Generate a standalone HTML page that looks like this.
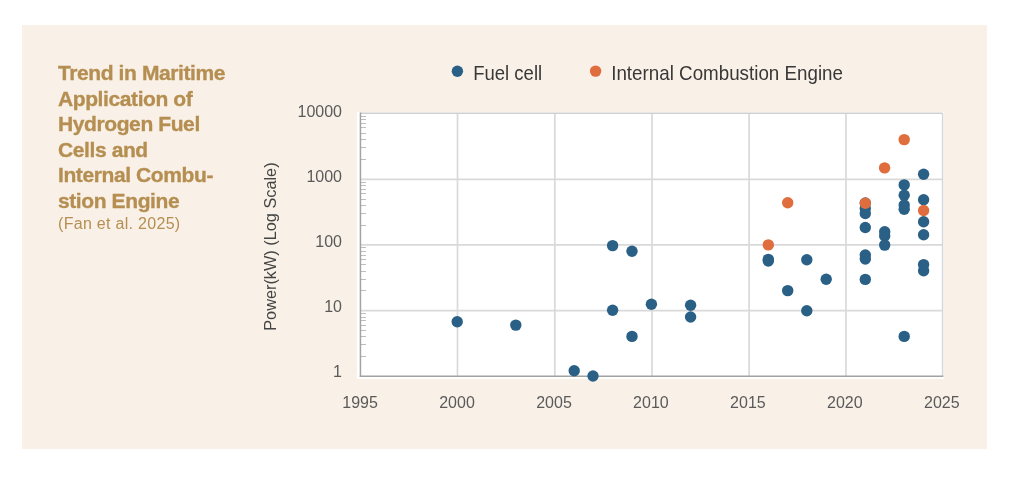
<!DOCTYPE html>
<html><head><meta charset="utf-8"><style>
html,body{margin:0;padding:0;background:#ffffff;width:1023px;height:478px;overflow:hidden;}
.card{position:absolute;left:22px;top:25px;width:965px;height:424px;background:#f9f1e8;}
.title{position:absolute;left:58px;top:60px;width:220px;font-family:"Liberation Sans",sans-serif;font-weight:bold;font-size:21px;letter-spacing:-0.4px;line-height:25.6px;color:#b58e51;-webkit-text-stroke:0.35px #b58e51;will-change:transform;}
.sub{font-weight:normal;font-size:16px;letter-spacing:0.3px;line-height:20px;display:block;-webkit-text-stroke:0;}
svg{position:absolute;left:0;top:0;will-change:transform;}
.tk{font-family:"Liberation Sans",sans-serif;font-size:16px;fill:#5a5a5a;}
.yt{font-family:"Liberation Sans",sans-serif;font-size:16.3px;fill:#444444;}
.lg{font-family:"Liberation Sans",sans-serif;font-size:18.8px;fill:#383838;}
</style></head><body>
<div class="card"></div>
<div class="title">Trend in Maritime<br>Application of<br>Hydrogen Fuel<br>Cells and<br>Internal Combu-<br>stion Engine<span class="sub">(Fan et al. 2025)</span></div>
<svg width="1023" height="478" viewBox="0 0 1023 478">
<rect x="357" y="112" width="587" height="267" fill="#ffffff"/>
<line x1="457.50" y1="113.25" x2="457.50" y2="376.25" stroke="#d9d9d9" stroke-width="1.7"/>
<line x1="554.83" y1="113.25" x2="554.83" y2="376.25" stroke="#d9d9d9" stroke-width="1.7"/>
<line x1="652.04" y1="113.25" x2="652.04" y2="376.25" stroke="#d9d9d9" stroke-width="1.7"/>
<line x1="749.09" y1="113.25" x2="749.09" y2="376.25" stroke="#d9d9d9" stroke-width="1.7"/>
<line x1="845.96" y1="113.25" x2="845.96" y2="376.25" stroke="#d9d9d9" stroke-width="1.7"/>
<line x1="360.45" y1="310.67" x2="942.6" y2="310.67" stroke="#d9d9d9" stroke-width="1.7"/>
<line x1="360.45" y1="244.90" x2="942.6" y2="244.90" stroke="#d9d9d9" stroke-width="1.7"/>
<line x1="360.45" y1="179.40" x2="942.6" y2="179.40" stroke="#d9d9d9" stroke-width="1.7"/>
<line x1="942.6" y1="113.25" x2="942.6" y2="376.25" stroke="#d6d6da" stroke-width="1.5"/>
<line x1="360.45" y1="113.25" x2="942.6" y2="113.25" stroke="#cfcfd2" stroke-width="1.5"/>
<line x1="360.45" y1="356.50" x2="365.95" y2="356.50" stroke="#bdbdbd" stroke-width="1"/>
<line x1="360.45" y1="344.50" x2="365.95" y2="344.50" stroke="#bdbdbd" stroke-width="1"/>
<line x1="360.45" y1="336.50" x2="365.95" y2="336.50" stroke="#bdbdbd" stroke-width="1"/>
<line x1="360.45" y1="330.50" x2="365.95" y2="330.50" stroke="#bdbdbd" stroke-width="1"/>
<line x1="360.45" y1="325.50" x2="365.95" y2="325.50" stroke="#bdbdbd" stroke-width="1"/>
<line x1="360.45" y1="320.50" x2="365.95" y2="320.50" stroke="#bdbdbd" stroke-width="1"/>
<line x1="360.45" y1="317.50" x2="365.95" y2="317.50" stroke="#bdbdbd" stroke-width="1"/>
<line x1="360.45" y1="313.50" x2="365.95" y2="313.50" stroke="#bdbdbd" stroke-width="1"/>
<line x1="360.45" y1="290.50" x2="365.95" y2="290.50" stroke="#bdbdbd" stroke-width="1"/>
<line x1="360.45" y1="279.50" x2="365.95" y2="279.50" stroke="#bdbdbd" stroke-width="1"/>
<line x1="360.45" y1="271.50" x2="365.95" y2="271.50" stroke="#bdbdbd" stroke-width="1"/>
<line x1="360.45" y1="264.50" x2="365.95" y2="264.50" stroke="#bdbdbd" stroke-width="1"/>
<line x1="360.45" y1="259.50" x2="365.95" y2="259.50" stroke="#bdbdbd" stroke-width="1"/>
<line x1="360.45" y1="255.50" x2="365.95" y2="255.50" stroke="#bdbdbd" stroke-width="1"/>
<line x1="360.45" y1="251.50" x2="365.95" y2="251.50" stroke="#bdbdbd" stroke-width="1"/>
<line x1="360.45" y1="247.50" x2="365.95" y2="247.50" stroke="#bdbdbd" stroke-width="1"/>
<line x1="360.45" y1="225.50" x2="365.95" y2="225.50" stroke="#bdbdbd" stroke-width="1"/>
<line x1="360.45" y1="213.50" x2="365.95" y2="213.50" stroke="#bdbdbd" stroke-width="1"/>
<line x1="360.45" y1="205.50" x2="365.95" y2="205.50" stroke="#bdbdbd" stroke-width="1"/>
<line x1="360.45" y1="199.50" x2="365.95" y2="199.50" stroke="#bdbdbd" stroke-width="1"/>
<line x1="360.45" y1="193.50" x2="365.95" y2="193.50" stroke="#bdbdbd" stroke-width="1"/>
<line x1="360.45" y1="189.50" x2="365.95" y2="189.50" stroke="#bdbdbd" stroke-width="1"/>
<line x1="360.45" y1="185.50" x2="365.95" y2="185.50" stroke="#bdbdbd" stroke-width="1"/>
<line x1="360.45" y1="182.50" x2="365.95" y2="182.50" stroke="#bdbdbd" stroke-width="1"/>
<line x1="360.45" y1="159.50" x2="365.95" y2="159.50" stroke="#bdbdbd" stroke-width="1"/>
<line x1="360.45" y1="147.50" x2="365.95" y2="147.50" stroke="#bdbdbd" stroke-width="1"/>
<line x1="360.45" y1="139.50" x2="365.95" y2="139.50" stroke="#bdbdbd" stroke-width="1"/>
<line x1="360.45" y1="133.50" x2="365.95" y2="133.50" stroke="#bdbdbd" stroke-width="1"/>
<line x1="360.45" y1="127.50" x2="365.95" y2="127.50" stroke="#bdbdbd" stroke-width="1"/>
<line x1="360.45" y1="123.50" x2="365.95" y2="123.50" stroke="#bdbdbd" stroke-width="1"/>
<line x1="360.45" y1="119.50" x2="365.95" y2="119.50" stroke="#bdbdbd" stroke-width="1"/>
<line x1="360.45" y1="116.50" x2="365.95" y2="116.50" stroke="#bdbdbd" stroke-width="1"/>
<line x1="360.45" y1="112.5" x2="360.45" y2="377.0" stroke="#a2a4a0" stroke-width="1.5"/>
<line x1="359.7" y1="376.25" x2="943.35" y2="376.25" stroke="#a2a4a0" stroke-width="1.5"/>
<circle cx="457.2" cy="321.8" r="5.7" fill="#2a6086"/>
<circle cx="515.8" cy="325.1" r="5.7" fill="#2a6086"/>
<circle cx="574.2" cy="370.8" r="5.7" fill="#2a6086"/>
<circle cx="593" cy="376" r="5.7" fill="#2a6086"/>
<circle cx="612.6" cy="245.6" r="5.7" fill="#2a6086"/>
<circle cx="612.6" cy="310.3" r="5.7" fill="#2a6086"/>
<circle cx="632" cy="251.3" r="5.7" fill="#2a6086"/>
<circle cx="632" cy="336.4" r="5.7" fill="#2a6086"/>
<circle cx="651.4" cy="304.3" r="5.7" fill="#2a6086"/>
<circle cx="690.6" cy="305.3" r="5.7" fill="#2a6086"/>
<circle cx="690.6" cy="317" r="5.7" fill="#2a6086"/>
<circle cx="768.3" cy="259.4" r="5.7" fill="#2a6086"/>
<circle cx="768.3" cy="261" r="5.7" fill="#2a6086"/>
<circle cx="787.7" cy="290.6" r="5.7" fill="#2a6086"/>
<circle cx="806.8" cy="259.8" r="5.7" fill="#2a6086"/>
<circle cx="806.8" cy="310.7" r="5.7" fill="#2a6086"/>
<circle cx="826.2" cy="279.2" r="5.7" fill="#2a6086"/>
<circle cx="865.3" cy="203" r="5.7" fill="#2a6086"/>
<circle cx="865.3" cy="208.5" r="5.7" fill="#2a6086"/>
<circle cx="865.3" cy="213.5" r="5.7" fill="#2a6086"/>
<circle cx="865.3" cy="227.5" r="5.7" fill="#2a6086"/>
<circle cx="865.3" cy="255" r="5.7" fill="#2a6086"/>
<circle cx="865.3" cy="259" r="5.7" fill="#2a6086"/>
<circle cx="865.3" cy="279.4" r="5.7" fill="#2a6086"/>
<circle cx="884.7" cy="231.8" r="5.7" fill="#2a6086"/>
<circle cx="884.7" cy="236" r="5.7" fill="#2a6086"/>
<circle cx="884.7" cy="245.1" r="5.7" fill="#2a6086"/>
<circle cx="904.2" cy="184.9" r="5.7" fill="#2a6086"/>
<circle cx="904.2" cy="195.2" r="5.7" fill="#2a6086"/>
<circle cx="904.2" cy="205" r="5.7" fill="#2a6086"/>
<circle cx="904.2" cy="209.2" r="5.7" fill="#2a6086"/>
<circle cx="904.2" cy="336.4" r="5.7" fill="#2a6086"/>
<circle cx="923.6" cy="174.2" r="5.7" fill="#2a6086"/>
<circle cx="923.6" cy="199.7" r="5.7" fill="#2a6086"/>
<circle cx="923.6" cy="221.7" r="5.7" fill="#2a6086"/>
<circle cx="923.6" cy="234.8" r="5.7" fill="#2a6086"/>
<circle cx="923.6" cy="264.6" r="5.7" fill="#2a6086"/>
<circle cx="923.6" cy="270.8" r="5.7" fill="#2a6086"/>
<circle cx="768.3" cy="244.9" r="5.7" fill="#e06d3d"/>
<circle cx="787.7" cy="202.8" r="5.7" fill="#e06d3d"/>
<circle cx="865.3" cy="203.3" r="5.7" fill="#e06d3d"/>
<circle cx="884.6" cy="167.9" r="5.7" fill="#e06d3d"/>
<circle cx="904.2" cy="139.6" r="5.7" fill="#e06d3d"/>
<circle cx="923.6" cy="210.5" r="5.7" fill="#e06d3d"/>
<text x="342" y="116.8" text-anchor="end" class="tk">10000</text>
<text x="342" y="181.8" text-anchor="end" class="tk">1000</text>
<text x="342" y="246.8" text-anchor="end" class="tk">100</text>
<text x="342" y="311.8" text-anchor="end" class="tk">10</text>
<text x="342" y="376.8" text-anchor="end" class="tk">1</text>
<text x="360.1" y="407.9" text-anchor="middle" class="tk">1995</text>
<text x="457.0" y="407.9" text-anchor="middle" class="tk">2000</text>
<text x="554.0" y="407.9" text-anchor="middle" class="tk">2005</text>
<text x="650.9" y="407.9" text-anchor="middle" class="tk">2010</text>
<text x="747.9" y="407.9" text-anchor="middle" class="tk">2015</text>
<text x="844.8" y="407.9" text-anchor="middle" class="tk">2020</text>
<text x="941.8" y="407.9" text-anchor="middle" class="tk">2025</text>
<text transform="translate(275.5,246.6) rotate(-90) scale(1,1.06)" text-anchor="middle" class="yt">Power(kW) (Log Scale)</text>
<circle cx="457.4" cy="71.2" r="5.7" fill="#2a6086"/>
<text transform="translate(473.2,80) scale(0.985,1.075)" x="0" y="0" class="lg">Fuel cell</text>
<circle cx="595.6" cy="71.1" r="5.7" fill="#e06d3d"/>
<text transform="translate(611.2,80) scale(1,1.075)" x="0" y="0" class="lg">Internal Combustion Engine</text>
</svg>
</body></html>
